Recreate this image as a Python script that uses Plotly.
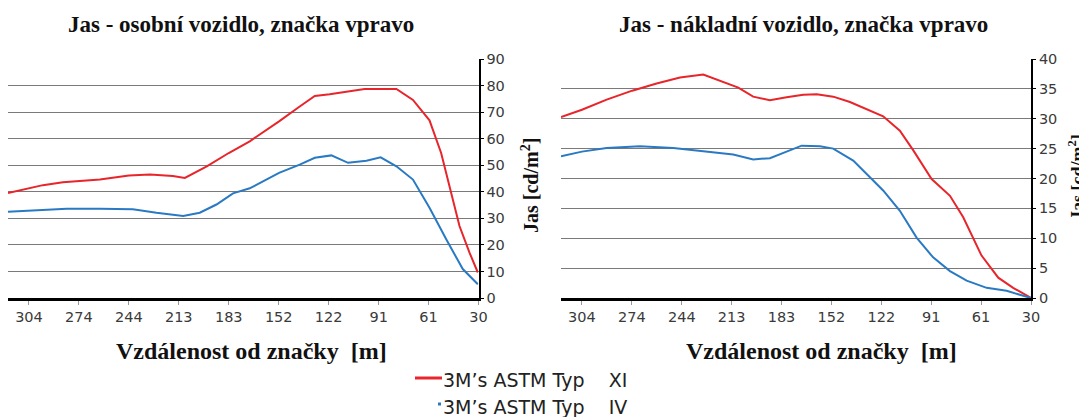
import plotly.graph_objects as go

# ---------------- data ----------------
tick_vals = [304.8, 274.3, 243.8, 213.4, 182.9, 152.4, 121.9, 91.4, 61.0, 30.5]
tick_text = ["304", "274", "244", "213", "183", "152", "122", "91", "61", "30"]

# Left chart: passenger car
car_xi_x = [317.6, 304.8, 296.3, 284.1, 274.3, 261.5, 243.8, 231.0, 217.0, 209.7, 196.3, 182.9, 170.1,
            160.0, 152.2, 139.6, 130.4, 121.3, 109.1, 100.0, 90.8, 80.6, 70.5, 65.4, 60.4, 53.3, 48.2,
            42.1, 36.0, 30.9]
car_xi_y = [39.5, 41.2, 42.5, 43.6, 44.0, 44.6, 46.1, 46.5, 45.9, 45.2, 49.6, 54.6, 59.0,
            63.1, 66.5, 72.1, 76.1, 76.7, 77.7, 78.7, 78.7, 78.7, 74.6, 70.9, 66.9, 54.6, 42.1,
            27.1, 17.1, 9.6]
car_iv_x = [317.6, 302.4, 281.8, 261.5, 241.4, 227.0, 210.7, 200.6, 190.4, 180.3, 170.1, 152.2,
            139.6, 130.4, 120.3, 110.1, 98.9, 90.2, 80.6, 70.5, 60.4, 50.2, 40.1, 30.9]
car_iv_y = [32.5, 33.0, 33.6, 33.6, 33.4, 32.1, 30.9, 32.1, 35.2, 39.4, 41.3, 47.1,
            50.2, 52.8, 53.7, 50.9, 51.7, 53.0, 49.6, 44.6, 34.0, 22.1, 10.9, 5.2]

# Right chart: truck
truck_xi_x = [317.6, 304.8, 289.7, 274.1, 259.2, 244.9, 230.7, 219.5, 209.3, 200.2, 190.0, 179.8,
              169.6, 161.4, 151.3, 141.1, 130.9, 120.8, 110.6, 102.4, 91.2, 80.0, 71.9, 60.7,
              50.5, 41.4, 30.5]
truck_xi_y = [30.3, 31.5, 33.2, 34.7, 35.9, 36.9, 37.4, 36.2, 35.2, 33.7, 33.1, 33.6,
              34.0, 34.1, 33.7, 32.8, 31.6, 30.4, 28.0, 24.7, 19.9, 17.1, 13.5, 7.1,
              3.4, 1.7, 0.0]
truck_iv_x = [317.6, 304.8, 289.7, 269.4, 249.0, 230.7, 212.4, 200.2, 190.0, 179.8, 170.6, 159.4,
              151.3, 139.1, 130.9, 120.8, 110.6, 100.4, 90.3, 80.0, 69.8, 57.6, 45.4, 30.5]
truck_iv_y = [23.7, 24.5, 25.1, 25.4, 25.1, 24.6, 24.0, 23.2, 23.4, 24.5, 25.5, 25.4,
              25.0, 23.0, 20.8, 18.0, 14.6, 10.1, 6.8, 4.5, 2.9, 1.7, 1.2, 0.0]

titles = ["Jas - osobní vozidlo, značka vpravo", "Jas - nákladní vozidlo, značka vpravo"]
x_title = "Vzdálenost od značky\u00a0\u00a0[m]"
y_title = "Jas [cd/m<sup>2</sup>]"
legend_names = ["3M\u2019s ASTM Typ\u00a0\u00a0\u00a0\u00a0XI", "3M\u2019s ASTM Typ\u00a0\u00a0\u00a0\u00a0IV"]

RED = "#e8252a"
BLUE = "#2a7ac3"

# ---------------- layout geometry ----------------
# the page body has an 8px margin; positions below are given in page pixels
OFF = 8
W, H = 1087 - OFF, 417 - OFF
ML, MR, MT, MB = 0, 56, 59 - OFF, 119
PW = W - ML - MR
PH = H - MT - MB


def px_x(px):
    return (px - OFF - ML) / PW


def px_y(py):
    return (417 - MB - py) / PH


fig = go.Figure()
fig.add_trace(go.Scatter(x=car_xi_x, y=car_xi_y, mode="lines", line=dict(color=RED, width=2),
                         xaxis="x", yaxis="y", showlegend=False, name=legend_names[0]))
fig.add_trace(go.Scatter(x=car_iv_x, y=car_iv_y, mode="lines", line=dict(color=BLUE, width=2),
                         xaxis="x", yaxis="y", showlegend=False, name=legend_names[1]))
fig.add_trace(go.Scatter(x=truck_xi_x, y=truck_xi_y, mode="lines", line=dict(color=RED, width=2),
                         xaxis="x2", yaxis="y2", showlegend=False, name=legend_names[0]))
fig.add_trace(go.Scatter(x=truck_iv_x, y=truck_iv_y, mode="lines", line=dict(color=BLUE, width=2),
                         xaxis="x2", yaxis="y2", showlegend=False, name=legend_names[1]))

tickfont = dict(family="DejaVu Sans, Arial, sans-serif", size=14.5, color="#3a3a3a")
xaxis_common = dict(range=[317.6, 30.5], tickvals=tick_vals, ticktext=tick_text, showgrid=False,
                    showline=True, linecolor="black", linewidth=3, ticks="outside", ticklen=4,
                    tickcolor="#999", tickfont=tickfont, zeroline=False, fixedrange=True)
yaxis_common = dict(side="right", showgrid=True, gridcolor="#7a7a7a", gridwidth=1,
                    showline=True, linecolor="black", linewidth=2, ticks="outside", ticklen=3,
                    tickcolor="black", tickfont=tickfont, zeroline=False, fixedrange=True)

dom_left = [px_x(8), px_x(478.5)]
dom_right = [px_x(561), px_x(1031)]

fig.update_layout(
    width=W, height=H,
    margin=dict(l=ML, r=MR, t=MT, b=MB),
    paper_bgcolor="white", plot_bgcolor="white",
    xaxis=dict(domain=dom_left, anchor="y", **xaxis_common),
    yaxis=dict(domain=[0, 1], anchor="x", range=[0, 90], dtick=10, **yaxis_common),
    xaxis2=dict(domain=dom_right, anchor="y2", **xaxis_common),
    yaxis2=dict(domain=[0, 1], anchor="x2", range=[0, 40], dtick=5, **yaxis_common),
)

SERIF = "Liberation Serif, Times New Roman, serif"


def sfont(size):
    return dict(family=SERIF, size=size, color="#111111")


ann = []
# chart titles
ann.append(dict(text="<b>%s</b>" % titles[0], x=px_x(240.5), y=px_y(24), xref="paper", yref="paper",
                showarrow=False, font=sfont(23), xanchor="center", yanchor="middle"))
ann.append(dict(text="<b>%s</b>" % titles[1], x=px_x(803.5), y=px_y(24), xref="paper", yref="paper",
                showarrow=False, font=sfont(23), xanchor="center", yanchor="middle"))
# x titles
ann.append(dict(text="<b>%s</b>" % x_title, x=px_x(251), y=px_y(351), xref="paper", yref="paper",
                showarrow=False, font=sfont(24), xanchor="center", yanchor="middle"))
ann.append(dict(text="<b>%s</b>" % x_title, x=px_x(821), y=px_y(351), xref="paper", yref="paper",
                showarrow=False, font=sfont(24), xanchor="center", yanchor="middle"))
# y titles
ann.append(dict(text="<b>%s</b>" % y_title, x=px_x(530), y=px_y(186), xref="paper", yref="paper",
                showarrow=False, font=sfont(20), textangle=-90, xanchor="center", yanchor="middle"))
ann.append(dict(text="<b>%s</b>" % y_title, x=px_x(1076), y=px_y(177), xref="paper", yref="paper",
                showarrow=False, font=sfont(18), textangle=-90, xanchor="center", yanchor="middle"))
# legend text
legfont = dict(family="DejaVu Sans, Arial, sans-serif", size=19, color="#222222")
ann.append(dict(text=legend_names[0], x=px_x(441), y=px_y(380), xref="paper", yref="paper",
                showarrow=False, font=legfont, xanchor="left", yanchor="middle"))
ann.append(dict(text=legend_names[1], x=px_x(441), y=px_y(407), xref="paper", yref="paper",
                showarrow=False, font=legfont, xanchor="left", yanchor="middle"))
fig.update_layout(annotations=ann)

fig.update_layout(shapes=[
    dict(type="line", xref="paper", yref="paper", x0=px_x(415), x1=px_x(442), y0=px_y(378), y1=px_y(378),
         line=dict(color=RED, width=3)),
    dict(type="line", xref="paper", yref="paper", x0=px_x(438), x1=px_x(441), y0=px_y(404), y1=px_y(404),
         line=dict(color=BLUE, width=3)),
])

fig.write_html("out.html")
